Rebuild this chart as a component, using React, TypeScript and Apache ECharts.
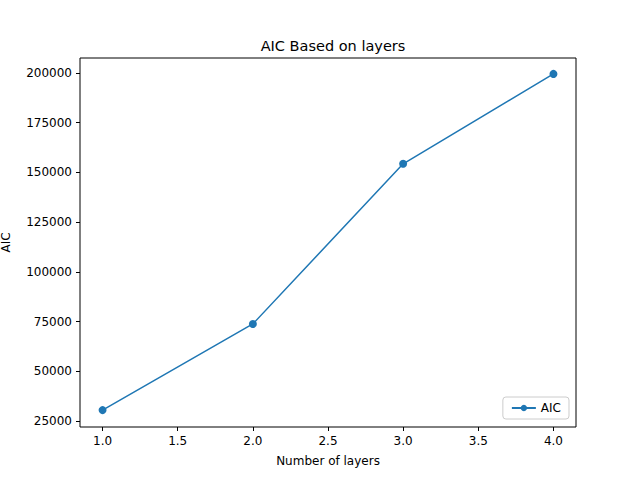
import { useEffect, useRef } from 'react';
import * as echarts from 'echarts';

const layers = [1, 2, 3, 4];
const aic = [30500, 73800, 154300, 199500];
const yTicks = [25000, 50000, 75000, 100000, 125000, 150000, 175000, 200000];
const xTicks = [1.0, 1.5, 2.0, 2.5, 3.0, 3.5, 4.0];

export default function App() {
  const ref = useRef<HTMLDivElement>(null);

  useEffect(() => {
    document.body.style.margin = '0';
    if (!ref.current) return;
    const chart = echarts.init(ref.current, undefined, { renderer: 'svg' });
    const font = 'DejaVu Sans';
    chart.setOption({
      animation: false,
      backgroundColor: '#fff',
      textStyle: { fontFamily: font },
      title: {
        text: 'AIC Based on layers',
        left: 328, top: 33, textAlign: 'center',
        textStyle: { fontFamily: font, fontSize: 14.5, fontWeight: 'normal', color: '#000' },
      },
      grid: {
        left: 80, right: 64, top: 58, bottom: 53,
        outerBoundsMode: 'none', containLabel: false,
        show: true, borderColor: '#000', borderWidth: 1,
      },
      legend: {
        right: 71, bottom: 61, orient: 'vertical',
        data: ['AIC'],
        itemWidth: 24, itemHeight: 8,
        backgroundColor: '#fff', borderColor: '#ccc', borderWidth: 1, borderRadius: 3,
        padding: [5, 8],
        textStyle: { fontFamily: font, fontSize: 12, color: '#000' },
      },
      xAxis: {
        type: 'value', min: 0.85, max: 4.15,
        name: 'Number of layers', nameLocation: 'middle', nameGap: 28,
        nameTextStyle: { fontFamily: font, fontSize: 12, color: '#000' },
        axisLine: { show: false },
        splitLine: { show: false },
        axisTick: { show: true, inside: false, length: 4, lineStyle: { color: '#000' }, customValues: xTicks },
        axisLabel: { color: '#000', fontSize: 12, customValues: xTicks, formatter: (v: number) => v.toFixed(1) },
      },
      yAxis: {
        type: 'value', min: 22000, max: 207500,
        name: 'AIC', nameLocation: 'middle', nameGap: 68,
        nameTextStyle: { fontFamily: font, fontSize: 12, color: '#000' },
        axisLine: { show: false },
        splitLine: { show: false },
        axisTick: { show: true, inside: false, length: 4, lineStyle: { color: '#000' }, customValues: yTicks },
        axisLabel: { color: '#000', fontSize: 12, customValues: yTicks, formatter: (v: number) => String(v) },
      },
      series: [{
        name: 'AIC', type: 'line',
        data: layers.map((x, i) => [x, aic[i]]),
        symbol: 'circle', symbolSize: 8,
        itemStyle: { color: '#1f77b4' },
        lineStyle: { color: '#1f77b4', width: 1.5 },
      }],
    });
    return () => chart.dispose();
  }, []);

  return <div ref={ref} style={{ width: 640, height: 480 }} />;
}
